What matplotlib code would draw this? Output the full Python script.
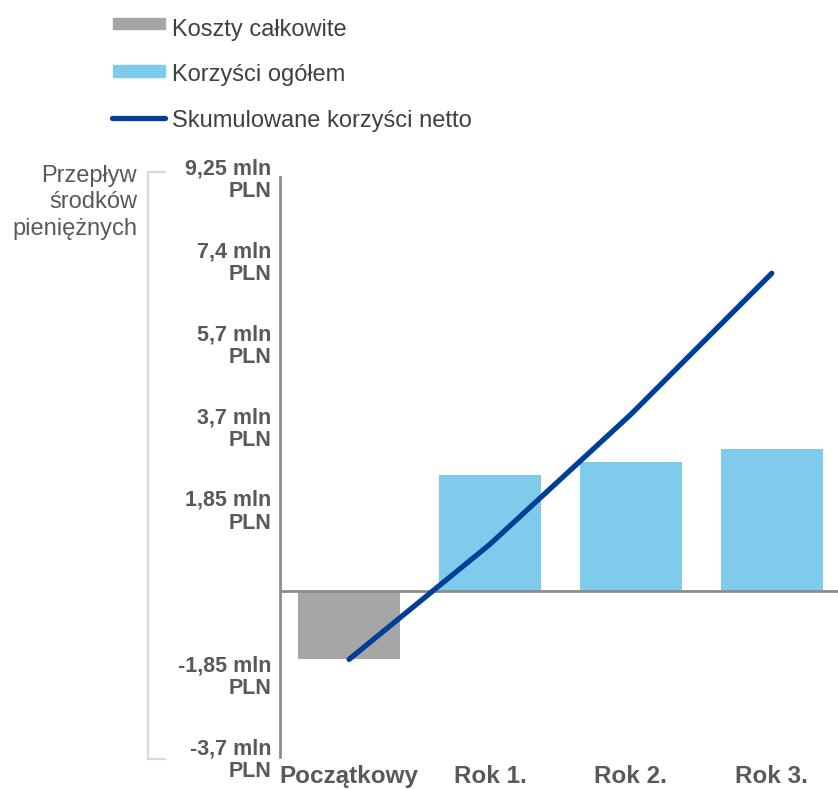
import numpy as np
import matplotlib
matplotlib.use("Agg")
import matplotlib.pyplot as plt
from matplotlib.patches import Rectangle
from matplotlib.lines import Line2D

plt.rcParams['font.family'] = ['Liberation Sans', 'DejaVu Sans']

categories = ["Początkowy", "Rok 1.", "Rok 2.", "Rok 3."]
costs = [-1.52, 0, 0, 0]
benefits = [0, 2.60, 2.89, 3.17]
cumulative = [-1.52, 1.05, 3.95, 7.10]
ytick_values = [9.25, 7.4, 5.55, 3.7, 1.85, 0, -1.85, -3.7]
ytick_labels = ["9,25 mln\nPLN", "7,4 mln\nPLN", "5,7 mln\nPLN", "3,7 mln\nPLN",
                "1,85 mln\nPLN", "", "-1,85 mln\nPLN", "-3,7 mln\nPLN"]
legend_labels = ["Koszty całkowite", "Korzyści ogółem", "Skumulowane korzyści netto"]

GRAY = "#a6a6a6"
BLUE = "#7fcbeb"
NAVY = "#003f98"
TEXT = "#595959"
W, H = 838, 789

def fx(px): return px / W
def fy(py): return 1 - py / H

fig = plt.figure(figsize=(W / 100, H / 100), dpi=100)
ax = fig.add_axes([fx(280), fy(757), fx(838) - fx(280), fy(177) - fy(757)])

x = np.arange(len(categories))
ax.bar(x, costs, width=0.72, color=GRAY, zorder=2)
ax.bar(x, benefits, width=0.72, color=BLUE, zorder=2)
ax.axhline(0, color="#8c8c8c", lw=2, zorder=3)
ax.plot(x, cumulative, color=NAVY, lw=3.8, solid_capstyle="round",
        solid_joinstyle="round", zorder=4)

ax.set_xlim(-0.49, 3.47)
ax.set_ylim(-3.7, 9.25)
ax.set_yticks(ytick_values)
ax.set_yticklabels(ytick_labels, fontsize=15.5, fontweight="bold", color=TEXT,
                   linespacing=1.1)
ax.set_xticks(x)
ax.set_xticklabels(categories, fontsize=17.5, fontweight="bold", color=TEXT)
ax.tick_params(axis="y", length=0, pad=6)
ax.tick_params(axis="x", length=0, pad=6)
for s in ["top", "right", "bottom"]:
    ax.spines[s].set_visible(False)
ax.spines["left"].set_color("#8c8c8c")
ax.spines["left"].set_linewidth(2)

# y axis title with bracket
fig.text(fx(137), fy(165), "Przepływ\nśrodków\npieniężnych", ha="right", va="top",
         fontsize=17, color=TEXT, linespacing=1.25)
bracket = "#d9d9d9"
fig.add_artist(Line2D([fx(148), fx(148)], [fy(172), fy(759)], color=bracket, lw=1.6))
fig.add_artist(Line2D([fx(148), fx(165)], [fy(172), fy(172)], color=bracket, lw=1.6))
fig.add_artist(Line2D([fx(148), fx(165)], [fy(759), fy(759)], color=bracket, lw=1.6))

# legend
fig.add_artist(Rectangle((fx(113), fy(29)), fx(165) - fx(113), fy(18) - fy(29),
                         color=GRAY, transform=fig.transFigure))
fig.add_artist(Rectangle((fx(113), fy(77)), fx(165) - fx(113), fy(65) - fy(77),
                         color=BLUE, transform=fig.transFigure))
fig.add_artist(Line2D([fx(112), fx(165)], [fy(118), fy(118)], color=NAVY, lw=3.8,
                      solid_capstyle="round"))
for lab, py in zip(legend_labels, [30, 75, 121]):
    fig.text(fx(172), fy(py), lab, ha="left", va="center", fontsize=17, color="#404040")

fig.savefig("out.png", dpi=100)
